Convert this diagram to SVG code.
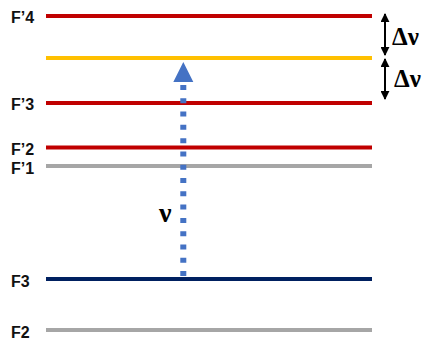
<svg xmlns="http://www.w3.org/2000/svg" width="428" height="342" viewBox="0 0 428 342">
<defs>
<style>
.lvl{stroke-width:4;fill:none}
.lab{font-family:"Liberation Sans",Arial,sans-serif;font-weight:bold;font-size:16px;fill:#111}
.gr{font-family:"Liberation Serif","Times New Roman",serif;font-weight:bold;fill:#000}
.dbl{stroke:#000;stroke-width:2}
</style>
<marker id="ah" viewBox="0 0 10 10" refX="9" refY="5" markerWidth="9" markerHeight="9" markerUnits="userSpaceOnUse" orient="auto-start-reverse">
<path d="M0,0 L10,5 L0,10 Z" fill="#000"/>
</marker>
</defs>
<rect width="428" height="342" fill="#fff"/>
<g id="F4p"><line class="lvl" x1="46" y1="16" x2="372" y2="16" stroke="#C00000"/><text class="lab" x="11" y="23">F’4</text></g>
<g id="virtual"><line class="lvl" x1="46" y1="58" x2="372" y2="58" stroke="#FFC000"/></g>
<g id="F3p"><line class="lvl" x1="46" y1="103" x2="372" y2="103" stroke="#C00000"/><text class="lab" x="11" y="110">F’3</text></g>
<g id="F2p"><line class="lvl" x1="46" y1="147.5" x2="372" y2="147.5" stroke="#C00000"/><text class="lab" x="11" y="155">F’2</text></g>
<g id="F1p"><line class="lvl" x1="46" y1="166" x2="372" y2="166" stroke="#A6A6A6"/><text class="lab" x="11" y="174">F’1</text></g>
<g id="F3"><line class="lvl" x1="46" y1="279" x2="372" y2="279" stroke="#002060"/><text class="lab" x="11" y="287">F3</text></g>
<g id="F2"><line class="lvl" x1="46" y1="330" x2="372" y2="330" stroke="#A6A6A6"/><text class="lab" x="11" y="338">F2</text></g>
<g id="connectors">
<line x1="183.3" y1="85" x2="183.3" y2="276" stroke="#4472C4" stroke-width="6" stroke-dasharray="5 8.29"/>
<path d="M183.3,62 L193.3,82 L173.3,82 Z" fill="#4472C4"/>
<line class="dbl" x1="385" y1="14" x2="385" y2="55" marker-start="url(#ah)" marker-end="url(#ah)"/>
<line class="dbl" x1="385" y1="59" x2="385" y2="99" marker-start="url(#ah)" marker-end="url(#ah)"/>
</g>
<g id="labels">
<text class="gr" x="159" y="222" font-size="28">ν</text>
<text class="gr" x="392" y="45" font-size="25">Δν</text>
<text class="gr" x="394" y="87" font-size="25">Δν</text>
</g>
</svg>
